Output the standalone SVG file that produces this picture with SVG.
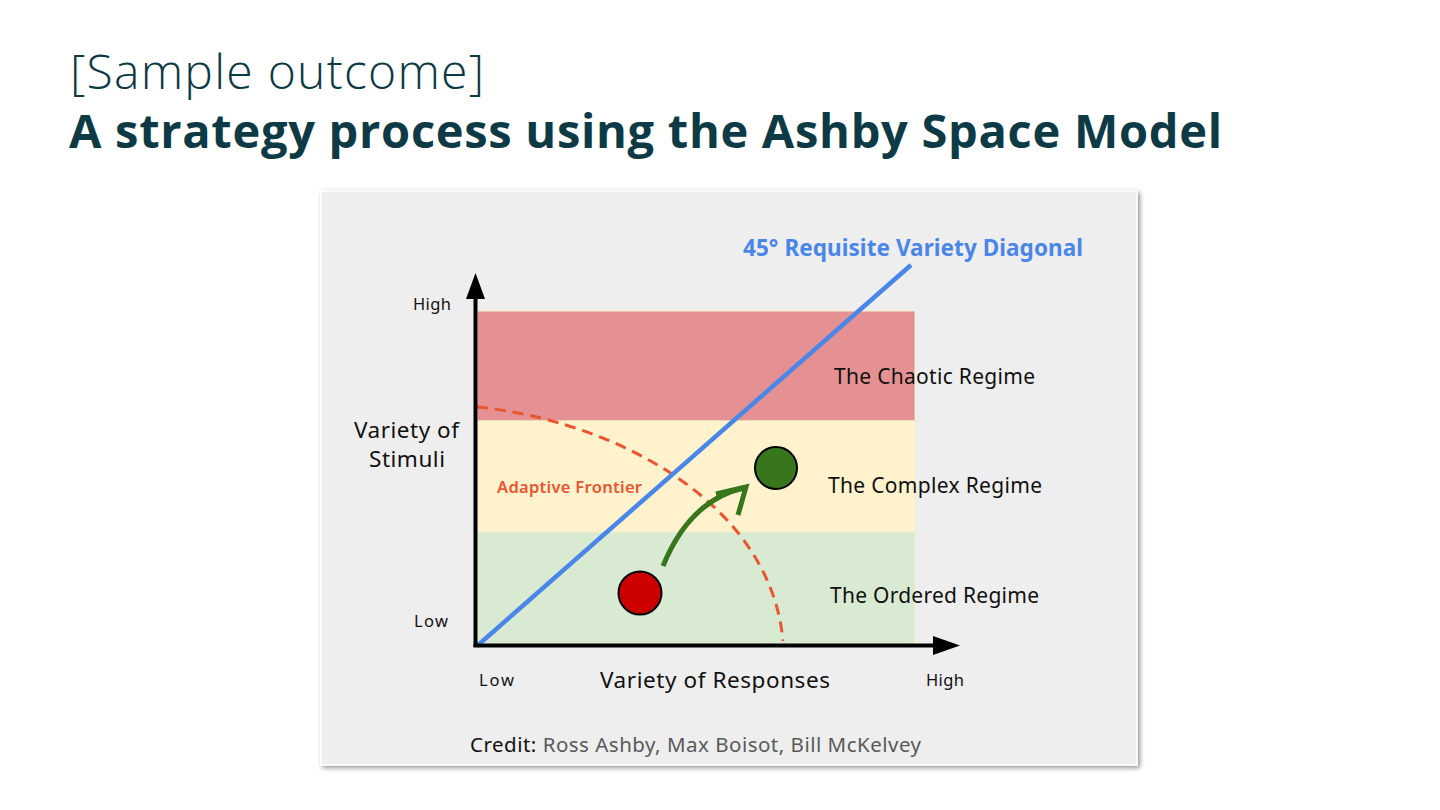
<svg xmlns="http://www.w3.org/2000/svg" width="1440" height="810" viewBox="0 0 1440 810">
<defs>
<style>
.t{font-family:"Noto Sans","Liberation Sans",sans-serif;fill:#111111}
.sm{font-size:16.5px}
.md{font-size:22.5px}
.rg{font-size:21px}
.title{font-family:"Open Sans","Noto Sans",sans-serif;fill:#0e3a45}
</style>
<filter id="sh" x="-5%" y="-5%" width="110%" height="110%">
<feGaussianBlur in="SourceAlpha" stdDeviation="2.5"/>
<feOffset dx="1.5" dy="2" result="b"/>
<feComponentTransfer><feFuncA type="linear" slope="0.45"/></feComponentTransfer>
<feMerge><feMergeNode/><feMergeNode in="SourceGraphic"/></feMerge>
</filter>
</defs>
<rect width="1440" height="810" fill="#ffffff"/>
<g id="title">
<text class="title" x="70" y="89" font-size="48" font-weight="300" textLength="414" lengthAdjust="spacing">[Sample outcome]</text>
<text class="title" x="69" y="148" font-size="47" font-weight="700" textLength="1153" lengthAdjust="spacing">A strategy process using the Ashby Space Model</text>
</g>
<g id="panel">
<rect x="321" y="191" width="816" height="574" fill="#eeeeee" stroke="#ffffff" stroke-width="1.5" filter="url(#sh)"/>
</g>
<g id="regions">
<rect id="chaotic" x="477" y="311" width="438" height="110" fill="#e59092" stroke="#f3f0c8" stroke-width="1"/>
<rect id="complex" x="477" y="421" width="438" height="111" fill="#fff2cc" stroke="#f3f0c8" stroke-width="1"/>
<rect id="ordered" x="477" y="532" width="438" height="113" fill="#d9ead3" stroke="#f3f0c8" stroke-width="1"/>
</g>
<g id="connectors">
<path id="frontier" d="M477,407 C610,420 770,500 783,641" fill="none" stroke="#ea5530" stroke-width="3" stroke-dasharray="11,7"/>
<line id="diagonal" x1="477" y1="646" x2="911" y2="265" stroke="#4a86e8" stroke-width="4.5"/>
<line id="yaxis" x1="475.5" y1="647" x2="475.5" y2="296" stroke="#000000" stroke-width="4"/>
<polygon points="475.5,273 466,299 485,299" fill="#000000"/>
<line id="xaxis" x1="473.5" y1="645.5" x2="936" y2="645.5" stroke="#000000" stroke-width="4"/>
<polygon points="960,645.5 933,636 933,655" fill="#000000"/>
<path id="move" d="M663,566 Q690,500 744,488" fill="none" stroke="#38761d" stroke-width="5" stroke-linecap="butt"/>
<polyline points="716,494 746,487 738,515" fill="none" stroke="#38761d" stroke-width="5" stroke-linejoin="miter"/>
</g>
<g id="node-start">
<circle cx="640" cy="593" r="21.5" fill="#cc0000" stroke="#000000" stroke-width="2"/>
</g>
<g id="node-target">
<circle cx="776" cy="468" r="21" fill="#38761d" stroke="#000000" stroke-width="2"/>
</g>
<g id="labels">
<text class="t sm" x="413" y="310" textLength="38" lengthAdjust="spacing">High</text>
<text class="t sm" x="414" y="627" textLength="34" lengthAdjust="spacing">Low</text>
<text class="t md" x="354" y="438" textLength="105" lengthAdjust="spacing">Variety of</text>
<text class="t md" x="369" y="467" textLength="76" lengthAdjust="spacing">Stimuli</text>
<text class="t sm" x="479" y="686" textLength="35" lengthAdjust="spacing">Low</text>
<text class="t md" x="600" y="688" textLength="230" lengthAdjust="spacing">Variety of Responses</text>
<text class="t sm" x="926" y="686" textLength="38" lengthAdjust="spacing">High</text>
<text class="t rg" x="834" y="384" textLength="201" lengthAdjust="spacing">The Chaotic Regime</text>
<text class="t rg" x="828" y="493" textLength="214" lengthAdjust="spacing">The Complex Regime</text>
<text class="t rg" x="830" y="603" textLength="209" lengthAdjust="spacing">The Ordered Regime</text>
<text x="497" y="493" font-family="Noto Sans,sans-serif" font-size="16.5" font-weight="600" fill="#ea5530" textLength="145" lengthAdjust="spacing">Adaptive Frontier</text>
<text x="743" y="256" font-family="Noto Sans,sans-serif" font-size="22.5" font-weight="700" fill="#4a86e8" textLength="340" lengthAdjust="spacing">45° Requisite Variety Diagonal</text>
<text class="t" x="470" y="752" font-size="20.5" textLength="451" lengthAdjust="spacing">Credit: <tspan fill="#595959">Ross Ashby, Max Boisot, Bill McKelvey</tspan></text>
</g>
</svg>
